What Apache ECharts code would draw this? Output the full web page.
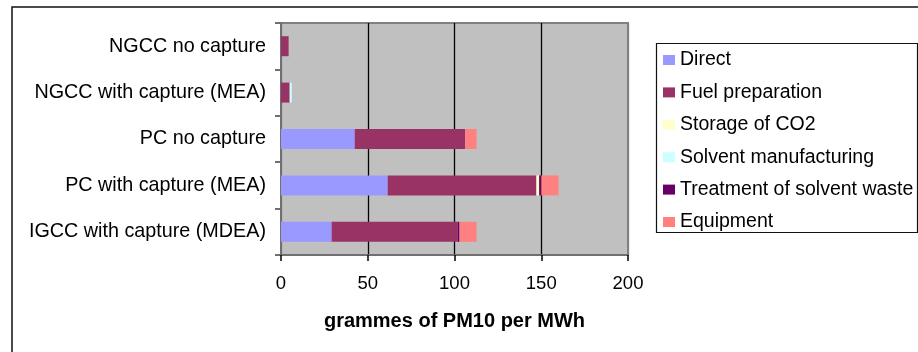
<!DOCTYPE html>
<html>
<head>
<meta charset="utf-8">
<script src="https://cdn.jsdelivr.net/npm/echarts@6/dist/echarts.min.js"></script>
<style>
html,body{margin:0;padding:0;background:#fff;}
#chart{width:918px;height:352px;}
</style>
</head>
<body>
<div id="chart"></div>
<script>
const categories = ['NGCC no capture', 'NGCC with capture (MEA)', 'PC no capture', 'PC with capture (MEA)', 'IGCC with capture (MDEA)'];
const seriesNames = ['Direct', 'Fuel preparation', 'Storage of CO2', 'Solvent manufacturing', 'Treatment of solvent waste', 'Equipment'];
const direct = [0, 0, 42.5, 61.5, 29.2];
const fuelPreparation = [4.4, 5.0, 63.7, 85.7, 72.6];
const storageOfCO2 = [0, 0, 0, 1.6, 0];
const solventManufacturing = [0, 1.2, 0, 0, 0];
const treatmentOfSolventWaste = [0, 0, 0, 1.2, 1.1];
const equipment = [0, 0, 6.5, 10.0, 9.8];
const xTicks = [0, 50, 100, 150, 200];
const colors = ['#9999FF', '#993366', '#FFFFCC', '#CCFFFF', '#660066', '#FF8080'];
const seriesValues = [direct, fuelPreparation, storageOfCO2, solventManufacturing, treatmentOfSolventWaste, equipment];

const FONT = '"Liberation Sans", Arial, sans-serif';
const chart = echarts.init(document.getElementById('chart'), null, {renderer: 'canvas'});
chart.setOption({
  animation: false,
  color: colors,
  textStyle: {fontFamily: FONT, color: '#000'},
  graphic: [
    {type: 'rect', shape: {x: 12, y: 7, width: 1000, height: 1000}, style: {fill: 'none', stroke: '#111', lineWidth: 1.5}, z: 0},
    {type: 'rect', shape: {x: 656.5, y: 43.5, width: 261, height: 189}, style: {fill: 'none', stroke: '#111', lineWidth: 1.2}, z: 0}
  ],
  legend: {
    orient: 'vertical',
    left: 663,
    top: 50,
    padding: 0,
    itemWidth: 12,
    itemHeight: 10,
    itemGap: 12.4,
    icon: 'rect',
    textStyle: {fontFamily: FONT, fontSize: 19.5, lineHeight: 19.5, color: '#000'},
    data: seriesNames
  },
  grid: {
    left: 281, top: 23, right: 290, bottom: 97,
    show: true, backgroundColor: '#C0C0C0', borderColor: '#808080', borderWidth: 2
  },
  xAxis: {
    type: 'value',
    min: xTicks[0], max: xTicks[xTicks.length - 1], interval: 50,
    name: 'grammes of PM10 per MWh',
    nameLocation: 'middle',
    nameGap: 56,
    nameTextStyle: {fontFamily: FONT, fontSize: 20, fontWeight: 'bold', color: '#000', lineHeight: 20},
    axisLine: {show: true, lineStyle: {color: '#707070', width: 2}},
    axisTick: {show: true, length: 6, lineStyle: {color: '#000', width: 1.5}},
    axisLabel: {fontFamily: FONT, fontSize: 18.5, lineHeight: 18, color: '#000', margin: 20},
    splitLine: {show: true, lineStyle: {color: ['#808080', '#000', '#000', '#000', '#808080'], width: 1.3}}
  },
  yAxis: {
    type: 'category',
    inverse: true,
    data: categories,
    axisLine: {show: true, lineStyle: {color: '#707070', width: 2}},
    axisTick: {show: true, length: 6, lineStyle: {color: '#707070', width: 2}},
    axisLabel: {fontFamily: FONT, fontSize: 19.75, color: '#000', margin: 15},
    splitLine: {show: false}
  },
  series: seriesNames.map((name, i) => ({
    name: name,
    type: 'bar',
    stack: 'total',
    barWidth: 20,
    data: seriesValues[i],
    itemStyle: {color: colors[i]}
  }))
});
</script>
</body>
</html>
